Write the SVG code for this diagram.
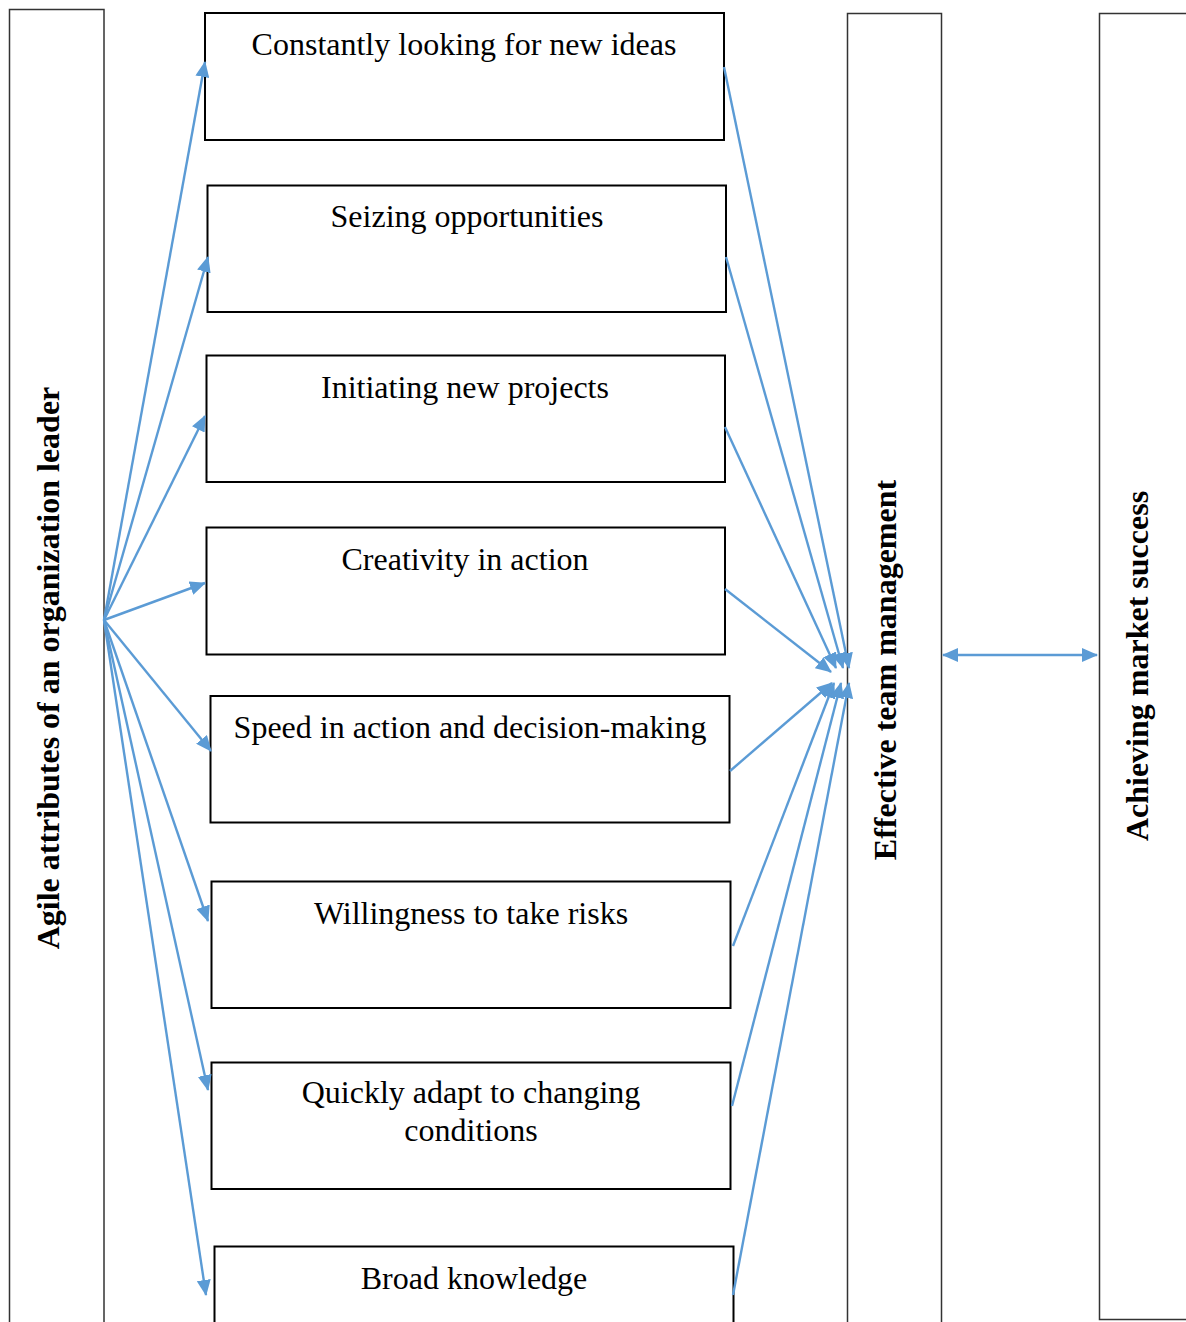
<svg xmlns="http://www.w3.org/2000/svg" width="1186" height="1322" viewBox="0 0 1186 1322">
<defs>
<style>
.box{fill:#fff;stroke:#000;stroke-width:2}
.col{fill:#fff;stroke:#333;stroke-width:1.5}
.t{font-family:"Liberation Serif","Times New Roman",serif;font-size:32px;fill:#000;text-anchor:middle}
.v{font-family:"Liberation Serif","Times New Roman",serif;font-size:32px;font-weight:bold;fill:#000;text-anchor:middle}
.c{stroke:#5b9bd5;stroke-width:2.4;fill:none}
</style>
<marker id="ah" viewBox="0 0 16 14" refX="15" refY="7" markerWidth="16" markerHeight="14" markerUnits="userSpaceOnUse" orient="auto-start-reverse"><path d="M0,0 L16,7 L0,14 z" fill="#5b9bd5"/></marker>
</defs>
<rect width="1186" height="1322" fill="#fff"/>
<g id="col-agile"><rect class="col" x="9.5" y="9.5" width="94.5" height="1330"/><text class="v" transform="translate(59,668) rotate(-90)">Agile attributes of an organization leader</text></g>
<g id="col-effective"><rect class="col" x="847.5" y="13.5" width="94" height="1330"/><text class="v" transform="translate(896,670) rotate(-90)">Effective team management</text></g>
<g id="col-market"><rect class="col" x="1099.5" y="13.5" width="110" height="1306"/><text class="v" transform="translate(1148,666) rotate(-90)">Achieving market success</text></g>
<g id="n1"><rect class="box" x="205" y="13" width="519" height="127"/><text class="t" x="464" y="55">Constantly looking for new ideas</text></g>
<g id="n2"><rect class="box" x="207.5" y="185.5" width="518.5" height="126.5"/><text class="t" x="467" y="227">Seizing opportunities</text></g>
<g id="n3"><rect class="box" x="206.5" y="355.5" width="518.5" height="126.5"/><text class="t" x="465" y="398">Initiating new projects</text></g>
<g id="n4"><rect class="box" x="206.5" y="527.5" width="518.5" height="127"/><text class="t" x="465" y="570">Creativity in action</text></g>
<g id="n5"><rect class="box" x="210.5" y="696" width="519" height="126.5"/><text class="t" x="470" y="738">Speed in action and decision-making</text></g>
<g id="n6"><rect class="box" x="211.5" y="881.5" width="519" height="126.5"/><text class="t" x="471" y="924">Willingness to take risks</text></g>
<g id="n7"><rect class="box" x="211.5" y="1062.5" width="519" height="126.5"/><text class="t" x="471" y="1103">Quickly adapt to changing</text><text class="t" x="471" y="1141">conditions</text></g>
<g id="n8"><rect class="box" x="214.5" y="1246.5" width="519" height="100"/><text class="t" x="474" y="1289">Broad knowledge</text></g>
<g id="connectors">
<line class="c" x1="104" y1="620" x2="205" y2="62" marker-end="url(#ah)"/>
<line class="c" x1="104" y1="620" x2="208" y2="257" marker-end="url(#ah)"/>
<line class="c" x1="104" y1="620" x2="205" y2="416" marker-end="url(#ah)"/>
<line class="c" x1="104" y1="620" x2="205" y2="583" marker-end="url(#ah)"/>
<line class="c" x1="104" y1="620" x2="211" y2="751" marker-end="url(#ah)"/>
<line class="c" x1="104" y1="620" x2="208" y2="921" marker-end="url(#ah)"/>
<line class="c" x1="104" y1="620" x2="208" y2="1090" marker-end="url(#ah)"/>
<line class="c" x1="104" y1="620" x2="206" y2="1295" marker-end="url(#ah)"/>
<line class="c" x1="724" y1="67" x2="849" y2="668" marker-end="url(#ah)"/>
<line class="c" x1="726" y1="257" x2="843" y2="668" marker-end="url(#ah)"/>
<line class="c" x1="725" y1="427" x2="836" y2="668" marker-end="url(#ah)"/>
<line class="c" x1="725" y1="589" x2="831" y2="672" marker-end="url(#ah)"/>
<line class="c" x1="730" y1="771" x2="832" y2="683" marker-end="url(#ah)"/>
<line class="c" x1="733" y1="946" x2="834" y2="683" marker-end="url(#ah)"/>
<line class="c" x1="732" y1="1106" x2="841" y2="683" marker-end="url(#ah)"/>
<line class="c" x1="733" y1="1295" x2="849" y2="683" marker-end="url(#ah)"/>
<line class="c" x1="943" y1="655" x2="1097" y2="655" marker-start="url(#ah)" marker-end="url(#ah)"/>
</g>
</svg>
